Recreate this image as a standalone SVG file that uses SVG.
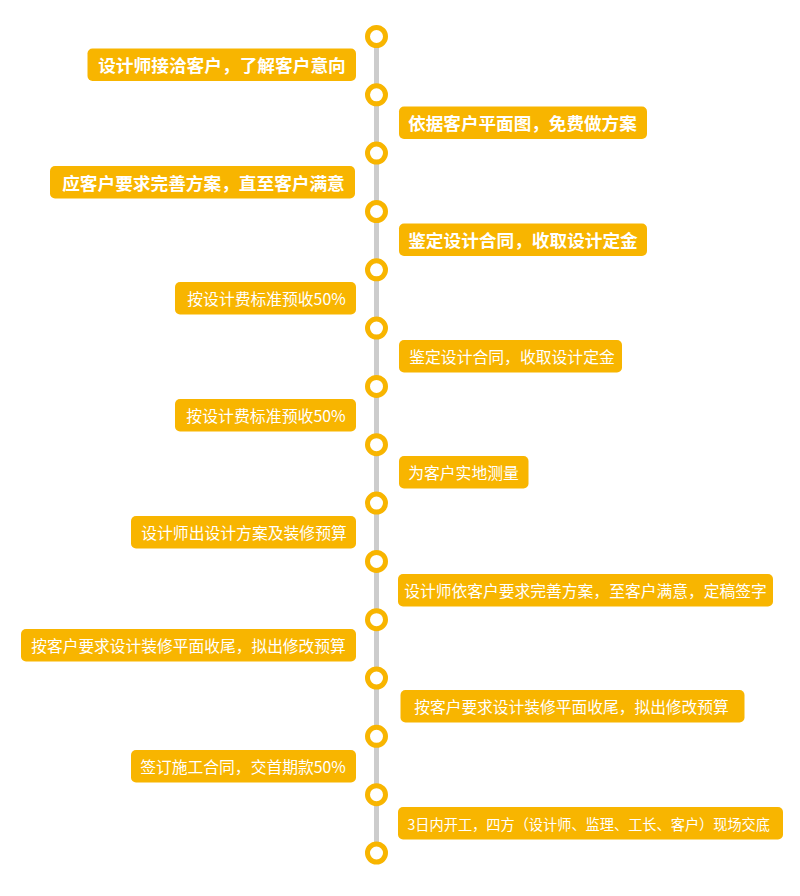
<svg xmlns="http://www.w3.org/2000/svg" width="800" height="896" viewBox="0 0 800 896">
<style>
.box{fill:#F8B500;}
.t{fill:#ffffff;font-family:"Noto Sans CJK SC","Microsoft YaHei",sans-serif;font-size:16px;dominant-baseline:central;}
.b{font-size:17.5px;font-weight:bold;}
.s{font-size:14.4px;}
.dot{fill:#ffffff;stroke:#F8B500;stroke-width:5;}
</style>
<rect width="800" height="896" fill="#ffffff"/>
<g id="connectors">
<line x1="376.5" y1="36.5" x2="376.5" y2="853" stroke="#CCCCCC" stroke-width="5"/>
</g>
<g id="timeline-dots">
<circle class="dot" cx="376.5" cy="36.5" r="9"/>
<circle class="dot" cx="376.5" cy="94.8" r="9"/>
<circle class="dot" cx="376.5" cy="153.1" r="9"/>
<circle class="dot" cx="376.5" cy="211.5" r="9"/>
<circle class="dot" cx="376.5" cy="269.8" r="9"/>
<circle class="dot" cx="376.5" cy="328.1" r="9"/>
<circle class="dot" cx="376.5" cy="386.4" r="9"/>
<circle class="dot" cx="376.5" cy="444.7" r="9"/>
<circle class="dot" cx="376.5" cy="503.1" r="9"/>
<circle class="dot" cx="376.5" cy="561.4" r="9"/>
<circle class="dot" cx="376.5" cy="619.7" r="9"/>
<circle class="dot" cx="376.5" cy="678" r="9"/>
<circle class="dot" cx="376.5" cy="736.3" r="9"/>
<circle class="dot" cx="376.5" cy="794.7" r="9"/>
<circle class="dot" cx="376.5" cy="853" r="9"/>
</g>
<g id="node-1">
<rect class="box" x="87.5" y="48.5" width="268.5" height="32.5" rx="5"/>
<text class="t b" x="98.2" y="64.8" textLength="247.6" lengthAdjust="spacingAndGlyphs">设计师接洽客户，了解客户意向</text>
</g>
<g id="node-2">
<rect class="box" x="399" y="106.5" width="248" height="32.5" rx="5"/>
<text class="t b" x="408.2" y="122.8" textLength="228.6" lengthAdjust="spacingAndGlyphs">依据客户平面图，免费做方案</text>
</g>
<g id="node-3">
<rect class="box" x="50" y="166" width="305" height="32.5" rx="5"/>
<text class="t b" x="62.2" y="182.3" textLength="282.6" lengthAdjust="spacingAndGlyphs">应客户要求完善方案，直至客户满意</text>
</g>
<g id="node-4">
<rect class="box" x="399" y="223.5" width="248" height="32.5" rx="5"/>
<text class="t b" x="408.2" y="239.8" textLength="229.6" lengthAdjust="spacingAndGlyphs">鉴定设计合同，收取设计定金</text>
</g>
<g id="node-5">
<rect class="box" x="175" y="282" width="181" height="32.5" rx="5"/>
<text class="t" x="187.3" y="298.3" textLength="158.4" lengthAdjust="spacingAndGlyphs">按设计费标准预收50%</text>
</g>
<g id="node-6">
<rect class="box" x="399" y="340" width="223" height="32.5" rx="5"/>
<text class="t" x="409.2" y="356.3" textLength="205.6" lengthAdjust="spacingAndGlyphs">鉴定设计合同，收取设计定金</text>
</g>
<g id="node-7">
<rect class="box" x="175" y="399" width="181" height="32.5" rx="5"/>
<text class="t" x="186.3" y="415.3" textLength="159.4" lengthAdjust="spacingAndGlyphs">按设计费标准预收50%</text>
</g>
<g id="node-8">
<rect class="box" x="399" y="456" width="129.5" height="32.5" rx="5"/>
<text class="t" x="408.2" y="472.3" textLength="110.6" lengthAdjust="spacingAndGlyphs">为客户实地测量</text>
</g>
<g id="node-9">
<rect class="box" x="131" y="516" width="225" height="32.5" rx="5"/>
<text class="t" x="141.2" y="532.3" textLength="205.6" lengthAdjust="spacingAndGlyphs">设计师出设计方案及装修预算</text>
</g>
<g id="node-10">
<rect class="box" x="398" y="574" width="375" height="32.5" rx="5"/>
<text class="t" x="404.2" y="590.3" textLength="362.6" lengthAdjust="spacingAndGlyphs">设计师依客户要求完善方案，至客户满意，定稿签字</text>
</g>
<g id="node-11">
<rect class="box" x="21" y="629" width="335" height="32.5" rx="5"/>
<text class="t" x="31.2" y="645.3" textLength="314.6" lengthAdjust="spacingAndGlyphs">按客户要求设计装修平面收尾，拟出修改预算</text>
</g>
<g id="node-12">
<rect class="box" x="400.5" y="690" width="344" height="32.5" rx="5"/>
<text class="t" x="414.2" y="706.3" textLength="314.6" lengthAdjust="spacingAndGlyphs">按客户要求设计装修平面收尾，拟出修改预算</text>
</g>
<g id="node-13">
<rect class="box" x="131" y="750" width="225" height="32.5" rx="5"/>
<text class="t" x="140.2" y="766.3" textLength="205.6" lengthAdjust="spacingAndGlyphs">签订施工合同，交首期款50%</text>
</g>
<g id="node-14">
<rect class="box" x="398" y="807" width="385" height="32.5" rx="5"/>
<text class="t s" x="407.5" y="823.3" textLength="362.5" lengthAdjust="spacingAndGlyphs">3日内开工，四方（设计师、监理、工长、客户）现场交底</text>
</g>
</svg>
